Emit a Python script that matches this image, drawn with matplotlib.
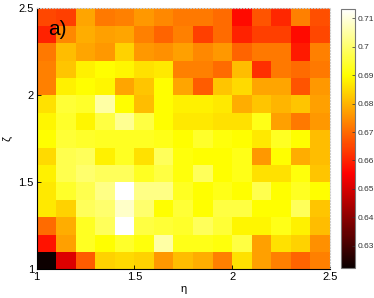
import matplotlib
matplotlib.use("Agg")
import matplotlib.pyplot as plt
import numpy as np

plt.rcParams["font.family"] = ["Liberation Sans", "DejaVu Sans"]

# cell edges along eta (x) and zeta (y)
eta_edges = np.linspace(1.0, 2.5, 16)
zeta_edges = np.linspace(2.5, 1.0, 16)  # rows listed top to bottom

# values per row, top row (zeta 2.4-2.5) first
rows = [
    [0.665, 0.664, 0.678, 0.672, 0.673, 0.676, 0.674, 0.672, 0.672, 0.670, 0.657, 0.667, 0.661, 0.673, 0.666],
    [0.660, 0.674, 0.679, 0.677, 0.678, 0.673, 0.669, 0.673, 0.664, 0.670, 0.660, 0.664, 0.664, 0.657, 0.665],
    [0.672, 0.681, 0.678, 0.676, 0.684, 0.676, 0.675, 0.677, 0.674, 0.676, 0.669, 0.672, 0.672, 0.659, 0.673],
    [0.673, 0.682, 0.688, 0.690, 0.689, 0.686, 0.687, 0.673, 0.673, 0.670, 0.681, 0.662, 0.672, 0.670, 0.672],
    [0.673, 0.688, 0.690, 0.689, 0.678, 0.682, 0.690, 0.678, 0.668, 0.682, 0.685, 0.678, 0.678, 0.667, 0.676],
    [0.686, 0.695, 0.694, 0.705, 0.690, 0.681, 0.690, 0.688, 0.688, 0.687, 0.679, 0.682, 0.680, 0.682, 0.677],
    [0.689, 0.694, 0.689, 0.696, 0.703, 0.696, 0.690, 0.687, 0.687, 0.686, 0.686, 0.692, 0.677, 0.672, 0.676],
    [0.690, 0.695, 0.694, 0.693, 0.693, 0.693, 0.692, 0.690, 0.694, 0.691, 0.690, 0.687, 0.693, 0.690, 0.681],
    [0.685, 0.697, 0.698, 0.688, 0.693, 0.686, 0.698, 0.691, 0.690, 0.690, 0.692, 0.676, 0.690, 0.679, 0.681],
    [0.688, 0.697, 0.700, 0.698, 0.698, 0.693, 0.696, 0.691, 0.698, 0.690, 0.692, 0.686, 0.686, 0.691, 0.682],
    [0.687, 0.694, 0.697, 0.702, 0.713, 0.702, 0.702, 0.693, 0.690, 0.692, 0.690, 0.697, 0.690, 0.693, 0.690],
    [0.687, 0.684, 0.698, 0.700, 0.708, 0.700, 0.690, 0.695, 0.690, 0.696, 0.696, 0.690, 0.690, 0.698, 0.682],
    [0.670, 0.679, 0.693, 0.698, 0.713, 0.696, 0.695, 0.694, 0.698, 0.695, 0.689, 0.689, 0.692, 0.688, 0.681],
    [0.658, 0.677, 0.693, 0.690, 0.694, 0.691, 0.705, 0.692, 0.692, 0.691, 0.696, 0.677, 0.686, 0.684, 0.675],
    [0.623, 0.651, 0.668, 0.684, 0.685, 0.684, 0.676, 0.681, 0.679, 0.673, 0.686, 0.677, 0.673, 0.669, 0.673],
]

VMIN, VMAX = 0.6223, 0.7132
cbar_ticks = [0.63, 0.64, 0.65, 0.66, 0.67, 0.68, 0.69, 0.70, 0.71]
axis_ticks = [1, 1.5, 2, 2.5]

fig = plt.figure(figsize=(3.74, 2.98), dpi=100)
ax = fig.add_axes([0.098, 0.096, 0.784, 0.876])
cax = fig.add_axes([0.911, 0.101, 0.038, 0.869])

mesh = ax.pcolormesh(eta_edges, zeta_edges, np.array(rows), cmap="hot",
                     vmin=VMIN, vmax=VMAX, shading="flat")
ax.set_xlim(1, 2.5)
ax.set_ylim(1, 2.5)
ax.set_xticks(axis_ticks)
ax.set_yticks(axis_ticks)
ax.set_xticklabels(["1", "1.5", "2", "2.5"])
ax.set_yticklabels(["1", "1.5", "2", "2.5"])
ax.tick_params(direction="in", length=3, width=0.6, labelsize=8, pad=2)
ax.set_xlabel("η", fontsize=8, labelpad=1)
ax.set_ylabel("ζ", fontsize=8, labelpad=4)
for side in ("top", "right"):
    ax.spines[side].set_color("#cccccc")
    ax.spines[side].set_linestyle(":")
    ax.spines[side].set_linewidth(0.8)
for side in ("left", "bottom"):
    ax.spines[side].set_linewidth(0.8)
ax.text(0.04, 0.955, "a)", transform=ax.transAxes, fontsize=15,
        va="top", ha="left", color="black")

cb = fig.colorbar(mesh, cax=cax, ticks=cbar_ticks)
cb.ax.tick_params(direction="in", length=2, width=0.5, labelsize=6,
                  colors="#333333", pad=2)
cb.ax.set_yticklabels([f"{t:g}" for t in cbar_ticks])
cb.outline.set_edgecolor("#777777")
cb.outline.set_linewidth(0.8)

fig.savefig("out.png", dpi=100)
